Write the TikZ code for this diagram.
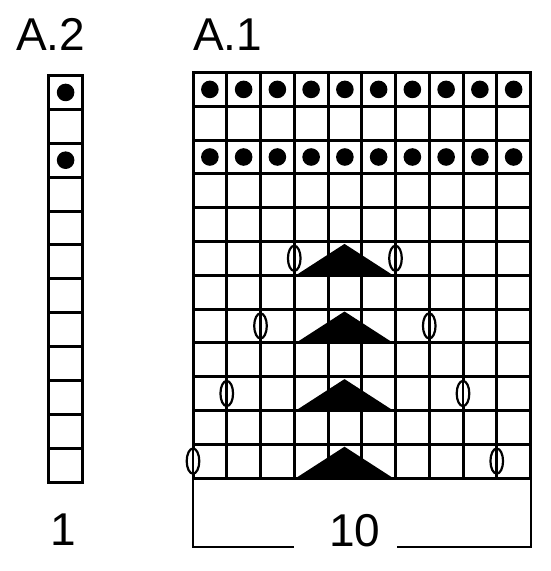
\documentclass[tikz,border=0pt]{standalone}
\usepackage{fontspec}
\setmainfont{Liberation Sans}
\begin{document}
\begin{tikzpicture}[x=1pt,y=-1pt,
  gridline/.style={line width=3pt, line cap=rect},
  bracketline/.style={line width=2.6pt},
  stdot/.style={fill=black},
  decsym/.style={fill=black},
  yosym/.style={draw=black, fill=white, line width=2.2pt},
  lbl/.style={font=\fontsize{46}{50}\selectfont, inner sep=0pt}]
\useasboundingbox (0,0) rectangle (550,571);
% titles
\node[lbl, anchor=base west] (tA2) at (16,50) {A.2};
\node[lbl, anchor=base west] (tA1) at (193,50) {A.1};
% ---- A.1 grid
\foreach \i in {0,...,10}
  \draw[gridline] ({193+\i*33.75},72.5) -- ({193+\i*33.75},478);
\foreach \j in {0,...,12}
  \draw[gridline] (193,{72.5+\j*33.8}) -- (530.5,{72.5+\j*33.8});
% dots
\foreach \r in {0,2}
  \foreach \i in {0,...,9}
    \fill[stdot] ({193+33.75*(\i+0.5)},{72.5+33.8*(\r+0.5)}) circle (8.8);
% triangles
\foreach \r in {1,3,5,7}{
  \pgfmathsetmacro{\tp}{478-\r*33.8}
  \pgfmathsetmacro{\bt}{\tp+33.8}
  \fill[decsym] (296,\bt) -- (344.5,{\tp+2.5}) -- (393,\bt) -- cycle;
}
% yarn overs
\foreach \r in {1,3,5,7}{
  \pgfmathsetmacro{\cy}{478-(\r-0.5)*33.8}
  \pgfmathsetmacro{\ka}{193+(\r-1)/2*33.75}
  \pgfmathsetmacro{\kb}{193+(9-(\r-1)/2)*33.75}
  \filldraw[yosym] (\ka,\cy) ellipse [x radius=6.3, y radius=12.6];
  \draw[line width=2.6pt] (\ka,{\cy-12.6}) -- (\ka,{\cy+12.6});
  \filldraw[yosym] (\kb,\cy) ellipse [x radius=6.3, y radius=12.6];
  \draw[line width=2.6pt] (\kb,{\cy-12.6}) -- (\kb,{\cy+12.6});
}
% ---- A.2 column
\foreach \i in {48.5,82.7}
  \draw[gridline] (\i,75.5) -- (\i,482);
\foreach \j in {0,...,12}
  \draw[gridline] (48.5,{75.5+\j*33.875}) -- (82.7,{75.5+\j*33.875});
\foreach \r in {0,2}
  \fill[stdot] (65.6,{75.5+33.875*(\r+0.5)}) circle (8.8);
% bottom labels and bracket
\node[lbl, anchor=base] (n1) at (62.8,545) {1};
\node[lbl, anchor=base] (n10) at (355,546) {10};
\draw[bracketline] (193,478) -- (193,547) -- (294,547);
\draw[bracketline] (397,547) -- (531,547) -- (531,478);
\end{tikzpicture}
\end{document}
